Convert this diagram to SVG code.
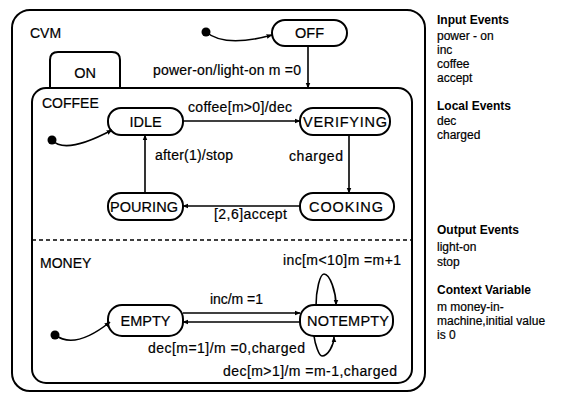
<svg xmlns="http://www.w3.org/2000/svg" width="571" height="393" viewBox="0 0 571 393">
<defs>
<marker id="ah" viewBox="0 0 10 10" refX="9" refY="5" markerWidth="6" markerHeight="6" orient="auto" markerUnits="userSpaceOnUse">
<path d="M0,1 L10,5 L0,9 Z" fill="#000"/>
</marker>
</defs>
<style>
text{font-family:"Liberation Sans",Arial,sans-serif;fill:#000}
.lbl{font-size:14px;stroke:#000;stroke-width:0.2}
.nl{font-size:14.5px;text-anchor:middle;dominant-baseline:central;stroke:#000;stroke-width:0.2}
.hd{font-size:12px;font-weight:bold}
.lg{font-size:12px;stroke:#000;stroke-width:0.2}
.st{fill:#fff;stroke:#000;stroke-width:2}
.ar{fill:none;stroke:#000;stroke-width:1.6;marker-end:url(#ah)}
</style>
<rect width="571" height="393" fill="#fff"/>
<g id="CVM">
<rect x="12" y="10" width="413" height="381" rx="18" class="st"/>
<text x="30" y="38" class="lbl">CVM</text>
</g>
<g id="ON">
<path d="M50,88 L50,60 Q50,52 58,52 L112,52 Q120,52 120,60 L120,88" class="st"/>
<text x="85" y="73" class="nl">ON</text>
<rect x="32" y="88" width="380" height="295" rx="14" class="st"/>
</g>
<g id="COFFEE">
<text x="42" y="108" class="lbl">COFFEE</text>
</g>
<line x1="32" y1="240" x2="412" y2="240" stroke="#000" stroke-width="1.6" stroke-dasharray="4,3"/>
<g id="MONEY">
<text x="40" y="268" class="lbl">MONEY</text>
</g>
<g id="OFF">
<rect x="272" y="20" width="75" height="26" rx="13" class="st"/>
<text x="309.5" y="33" class="nl">OFF</text>
</g>
<g id="IDLE">
<rect x="108" y="108" width="75" height="27" rx="13" class="st"/>
<text x="145.5" y="121.5" class="nl">IDLE</text>
</g>
<g id="VERIFYING">
<rect x="300" y="108" width="90" height="27" rx="13" class="st"/>
<text x="345" y="121.5" class="nl" textLength="84">VERIFYING</text>
</g>
<g id="COOKING">
<rect x="300" y="193" width="94" height="27" rx="13" class="st"/>
<text x="346" y="206.5" class="nl" textLength="74">COOKING</text>
</g>
<g id="POURING">
<rect x="108" y="193" width="75" height="27" rx="13" class="st"/>
<text x="144" y="206.5" class="nl" textLength="68">POURING</text>
</g>
<g id="EMPTY">
<rect x="108" y="305" width="75" height="31" rx="14" class="st"/>
<text x="145.5" y="320.5" class="nl">EMPTY</text>
</g>
<g id="NOTEMPTY">
<rect x="300" y="305" width="93" height="31" rx="14" class="st"/>
<text x="348" y="320.5" class="nl" textLength="82">NOTEMPTY</text>
</g>
<g id="connectors">
<circle cx="206" cy="32" r="4.5" fill="#000"/>
<path d="M206,32 Q225,48 272,35" class="ar"/>
<path d="M308,46 L308,88" class="ar"/>
<text x="153" y="75" class="lbl" textLength="148">power-on/light-on m =0</text>
<path d="M183,121 L300,121" class="ar"/>
<text x="188" y="112" class="lbl" textLength="104">coffee[m&gt;0]/dec</text>
<circle cx="52" cy="140" r="4.5" fill="#000"/>
<path d="M52,140 Q65,155 112,130" class="ar"/>
<path d="M349,135 L349,193" class="ar"/>
<text x="289" y="161" class="lbl" textLength="54">charged</text>
<path d="M300,206 L183,206" class="ar"/>
<text x="214" y="219" class="lbl" textLength="73">[2,6]accept</text>
<path d="M145,193 L145,135" class="ar"/>
<text x="155" y="160" class="lbl" textLength="78">after(1)/stop</text>
<circle cx="55" cy="335" r="4.5" fill="#000"/>
<path d="M55,335 Q75,350 110,322" class="ar"/>
<path d="M183,313 L300,313" class="ar"/>
<text x="210" y="304" class="lbl" textLength="53">inc/m =1</text>
<path d="M300,322 L183,322" class="ar"/>
<text x="148" y="353" class="lbl" textLength="157">dec[m=1]/m =0,charged</text>
<path d="M316,306 C316,290 320,274 324,274 C330,274 336,292 336,305" class="ar"/>
<text x="283" y="265" class="lbl" textLength="118">inc[m&lt;10]m =m+1</text>
<path d="M314,336 C315,344 319,356 322,356 C328,356 334,345 334,337" class="ar"/>
<text x="223" y="376" class="lbl" textLength="174">dec[m&gt;1]/m =m-1,charged</text>
</g>
<g id="legend">
<text x="437" y="24" class="hd">Input Events</text>
<text x="437" y="40" class="lg">power - on</text>
<text x="437" y="54" class="lg">inc</text>
<text x="437" y="68" class="lg">coffee</text>
<text x="437" y="82" class="lg">accept</text>
<text x="437" y="110" class="hd">Local Events</text>
<text x="437" y="125" class="lg">dec</text>
<text x="437" y="139" class="lg">charged</text>
<text x="437" y="234" class="hd">Output Events</text>
<text x="437" y="251" class="lg">light-on</text>
<text x="437" y="266" class="lg">stop</text>
<text x="437" y="294" class="hd">Context Variable</text>
<text x="437" y="311" class="lg">m money-in-</text>
<text x="437" y="325" class="lg">machine,initial value</text>
<text x="437" y="339" class="lg">is 0</text>
</g>
</svg>
